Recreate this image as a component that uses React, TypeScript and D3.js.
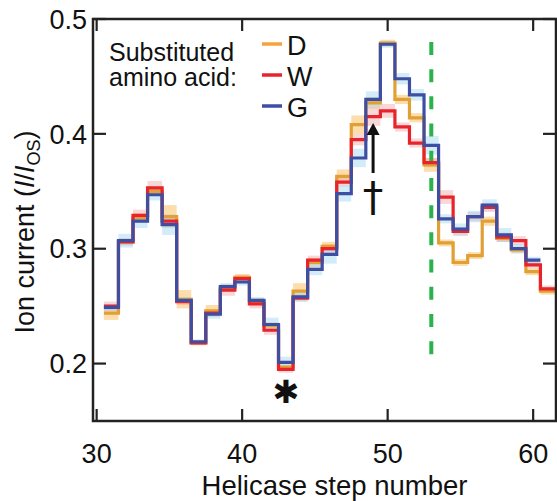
import React from 'react';
import * as d3 from 'd3';

// helicase steps 31..61 (G has no value at 61)
const steps = d3.range(31, 62);

const seriesD = [0.244, 0.306, 0.327, 0.350, 0.328, 0.256, 0.218, 0.246, 0.266, 0.275, 0.254, 0.233, 0.197, 0.263, 0.288, 0.302, 0.363, 0.408, 0.427, 0.479, 0.430, 0.414, 0.373, 0.305, 0.288, 0.294, 0.324, 0.309, 0.299, 0.280, 0.263];
const seriesW = [0.250, 0.306, 0.329, 0.353, 0.324, 0.254, 0.218, 0.244, 0.264, 0.274, 0.252, 0.229, 0.195, 0.257, 0.290, 0.300, 0.358, 0.395, 0.415, 0.420, 0.406, 0.392, 0.375, 0.345, 0.315, 0.328, 0.336, 0.310, 0.307, 0.286, 0.265];
const seriesG = [0.249, 0.307, 0.324, 0.347, 0.321, 0.255, 0.219, 0.243, 0.267, 0.271, 0.255, 0.234, 0.201, 0.258, 0.282, 0.295, 0.348, 0.379, 0.430, 0.478, 0.448, 0.434, 0.390, 0.326, 0.317, 0.328, 0.338, 0.312, 0.300, 0.290];

const errD = [0.006, 0.003, 0.004, 0.004, 0.010, 0.008, 0.002, 0.005, 0.003, 0.003, 0.003, 0.003, 0.002, 0.007, 0.004, 0.004, 0.006, 0.008, 0.005, 0.003, 0.004, 0.004, 0.006, 0.003, 0.003, 0.003, 0.004, 0.003, 0.003, 0.003, 0.003];
const errW = [0.004, 0.003, 0.005, 0.006, 0.004, 0.003, 0.002, 0.003, 0.005, 0.003, 0.004, 0.004, 0.003, 0.003, 0.004, 0.004, 0.004, 0.005, 0.008, 0.006, 0.004, 0.004, 0.004, 0.006, 0.004, 0.004, 0.004, 0.004, 0.004, 0.003, 0.003];
const errG = [0.003, 0.006, 0.006, 0.005, 0.009, 0.003, 0.002, 0.004, 0.003, 0.003, 0.003, 0.006, 0.005, 0.004, 0.005, 0.008, 0.007, 0.008, 0.007, 0.003, 0.005, 0.005, 0.008, 0.004, 0.005, 0.005, 0.005, 0.006, 0.004, 0.003];

const xTicks = [30, 40, 50, 60];
const yTicks = [0.2, 0.3, 0.4, 0.5];

const markerStep = 53;
const markerRange = [0.205, 0.48];

const series = [
  { name: 'D', values: seriesD, err: errD, color: '#e0a036', band: '#fbb44a', legend: '#f5a33c' },
  { name: 'W', values: seriesW, err: errW, color: '#e8232b', band: '#f6a8a8', legend: '#e8232b' },
  { name: 'G', values: seriesG, err: errG, color: '#3d4ea3', band: '#9dd8f3', legend: '#3d4ea3' },
];

const font = '"Liberation Sans", Arial, Helvetica, sans-serif';

const App = () => {
  const width = 557;
  const height = 501;
  const x = d3.scaleLinear().domain([29.75, 61.57]).range([93, 556]);
  const y = d3.scaleLinear().domain([0.15, 0.5]).range([421, 19]);

  const line = d3
    .line<[number, number]>()
    .x(d => x(d[0]))
    .y(d => y(d[1]));

  const stepPts = (vals: number[]) =>
    vals.flatMap((v, i) => [
      [steps[i] - 0.5, v],
      [steps[i] + 0.5, v],
    ] as [number, number][]);

  const x0 = x.range()[0];
  const x1 = x.range()[1];
  const yb = y.range()[0];
  const yt = y.range()[1];

  return (
    <svg width={width} height={height} style={{ position: 'absolute', left: 0, top: 0 }} fontFamily={font}>
      {/* error bands */}
      {series.map(s => (
        <g key={s.name + 'band'} fill={s.band} opacity={0.45}>
          {s.values.map((v, i) => (
            <rect
              key={i}
              x={x(steps[i] - 0.5)}
              width={x(steps[i] + 0.5) - x(steps[i] - 0.5)}
              y={y(v + s.err[i])}
              height={y(v - s.err[i]) - y(v + s.err[i])}
            />
          ))}
        </g>
      ))}

      {/* marker line */}
      <line
        x1={x(markerStep)}
        x2={x(markerStep)}
        y1={y(markerRange[1])}
        y2={y(markerRange[0])}
        stroke="#2bb34b"
        strokeWidth={4}
        strokeDasharray="13 14.2"
      />

      {series.map(s => (
        <path key={s.name} d={line(stepPts(s.values)) || ''} fill="none" stroke={s.color} strokeWidth={3.2} />
      ))}

      {/* frame */}
      <rect x={x0} y={yt} width={x1 - x0} height={yb - yt} fill="none" stroke="#222" strokeWidth={2.5} />
      {xTicks.map(t => (
        <g key={'x' + t} stroke="#222" strokeWidth={2.2}>
          <line x1={x(t)} x2={x(t)} y1={yb} y2={yb - 12} />
          <line x1={x(t)} x2={x(t)} y1={yt} y2={yt + 12} />
        </g>
      ))}
      {yTicks.map(t => (
        <g key={'y' + t} stroke="#222" strokeWidth={2.2}>
          <line x1={x0} x2={x0 + 13} y1={y(t)} y2={y(t)} />
          <line x1={x1} x2={x1 - 13} y1={y(t)} y2={y(t)} />
        </g>
      ))}
      {xTicks.map(t => (
        <text key={'xl' + t} x={x(t)} y={463} textAnchor="middle" fontSize={27} fill="#111">
          {t}
        </text>
      ))}
      {yTicks.map(t => (
        <text key={'yl' + t} x={87} y={y(t)} dy="0.36em" textAnchor="end" fontSize={27} fill="#111">
          {t.toFixed(1)}
        </text>
      ))}
      <text x={(x0 + x1) / 2 + 10} y={495} textAnchor="middle" fontSize={27.5} fill="#111">
        Helicase step number
      </text>
      <text transform="translate(34,232) rotate(-90)" textAnchor="middle" fontSize={27} fill="#111">
        Ion current (<tspan fontStyle="italic">I</tspan>/<tspan fontStyle="italic">I</tspan>
        <tspan fontSize={18} dy={6}>OS</tspan>
        <tspan dy={-6}>)</tspan>
      </text>

      {/* legend */}
      <text x={109} y={61} fontSize={25} fill="#111">Substituted</text>
      <text x={109} y={86} fontSize={25} fill="#111">amino acid:</text>
      {series.map((s, i) => (
        <g key={'lg' + s.name}>
          <line x1={262} x2={282} y1={44 + i * 31} y2={44 + i * 31} stroke={s.legend} strokeWidth={3.5} />
          <text x={287} y={55 + i * 31} fontSize={27} fill="#111">
            {s.name}
          </text>
        </g>
      ))}

      {/* annotations */}
      <text x={x(43)} y={403} textAnchor="middle" fontSize={32} fontFamily='"DejaVu Sans", sans-serif' fill="#111">
        ✱
      </text>
      <text x={373} y={211} textAnchor="middle" fontSize={41} fontFamily='"DejaVu Sans", sans-serif' fill="#111">
        †
      </text>
      <line x1={x(49)} x2={x(49)} y1={173} y2={130} stroke="#111" strokeWidth={3} />
      <path
        d={`M${x(49) - 6.5},${135} L${x(49)},${123} L${x(49) + 6.5},${135} Z`}
        fill="#111"
      />
    </svg>
  );
};

export default App;
